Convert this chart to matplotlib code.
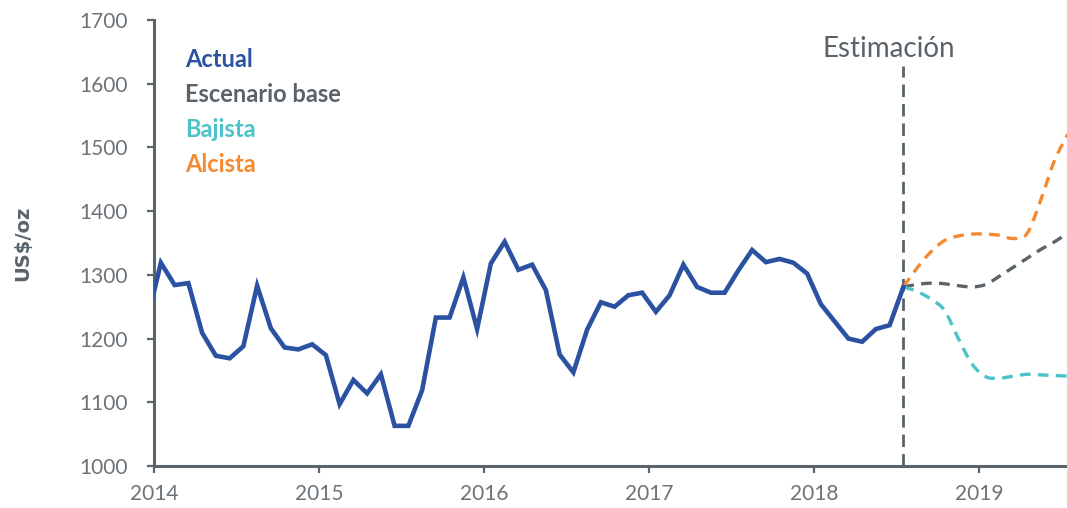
import matplotlib
matplotlib.use("Agg")
import matplotlib.pyplot as plt
from matplotlib.path import Path
from matplotlib.patches import PathPatch
import numpy as np

# Monthly gold price (US$/oz), Dec 2013 .. Jul 2018
actual = [
    1228,
    1319, 1284, 1287, 1209, 1173, 1169, 1188, 1283, 1216, 1186, 1183, 1191,  # 2014
    1174, 1097, 1135, 1114, 1144, 1063, 1063, 1119, 1233, 1233, 1296, 1215,  # 2015
    1318, 1352, 1308, 1316, 1276, 1175, 1147, 1214, 1257, 1250, 1268, 1272,  # 2016
    1242, 1268, 1316, 1281, 1272, 1272, 1307, 1339, 1320, 1325, 1319, 1302,  # 2017
    1254, 1227, 1200, 1195, 1215, 1221, 1281,                                # 2018
]
# Scenarios, Jul 2018 .. Jul 2019
base = [1281, 1285, 1287, 1286, 1283, 1281, 1285, 1298, 1312, 1326, 1340, 1352, 1366]
bajista = [1281, 1274, 1262, 1244, 1200, 1160, 1140, 1138, 1141, 1144, 1143, 1142, 1141]
alcista = [1281, 1311, 1336, 1354, 1361, 1364, 1364, 1362, 1357, 1365, 1418, 1480, 1522]

labels = ["Actual", "Escenario base", "Bajista", "Alcista"]
years = [2014, 2015, 2016, 2017, 2018, 2019]
yticks = [1000, 1100, 1200, 1300, 1400, 1500, 1600, 1700]

c_actual = "#2b51a1"
c_base = "#5a6369"
c_baj = "#4cc3c8"
c_alc = "#f5892f"
c_axis = "#5a646b"
c_text = "#6b7379"

# months placed mid-month
t_actual = 2013 + (11 + 0.5) / 12 + np.arange(len(actual)) / 12
t_fc = t_actual[-1] + np.arange(len(base)) / 12


def smooth_path(x, y):
    # Catmull-Rom through the points, as cubic bezier segments
    pts = np.column_stack([x, y]).astype(float)
    verts = [pts[0]]
    codes = [Path.MOVETO]
    n = len(pts)
    for i in range(n - 1):
        p0 = pts[max(i - 1, 0)]
        p1 = pts[i]
        p2 = pts[i + 1]
        p3 = pts[min(i + 2, n - 1)]
        c1 = p1 + (p2 - p0) / 6
        c2 = p2 - (p3 - p1) / 6
        verts += [c1, c2, p2]
        codes += [Path.CURVE4] * 3
    return Path(verts, codes)


fig = plt.figure(figsize=(10.67, 5.08), dpi=100)
ax = fig.add_axes([154 / 1067, 1 - 466 / 508, (1067 - 154) / 1067, (466 - 20) / 508])

ax.plot([t_actual[-1], t_actual[-1]], [1000, 1628], color=c_base, lw=2,
        dashes=(4.5, 2.5), zorder=1, clip_on=False)

dash = (0, (3.2, 2.2))
for vals, col in [(base, c_base), (bajista, c_baj), (alcista, c_alc)]:
    ax.add_patch(PathPatch(smooth_path(t_fc, vals), fill=False, edgecolor=col,
                           lw=2.4, linestyle=dash, zorder=2, capstyle="butt"))

ax.plot(t_actual, actual, color=c_actual, lw=3.3, zorder=3, solid_joinstyle="miter")

ax.set_xlim(2014, 2014 + (1067 - 154) / 165)
ax.set_ylim(1000, 1700)
ax.set_xticks(years)
ax.set_yticks(yticks)

for s in ["top", "right"]:
    ax.spines[s].set_visible(False)
for s in ["left", "bottom"]:
    ax.spines[s].set_color(c_axis)
    ax.spines[s].set_linewidth(2.2)
ax.tick_params(axis="both", colors=c_axis, width=1.6, length=5, labelsize=15,
               labelcolor=c_text)
ax.tick_params(axis="y", pad=14)
ax.tick_params(axis="x", pad=8)
for lab in ax.get_xticklabels() + ax.get_yticklabels():
    lab.set_fontfamily("Lato")

ax.set_ylabel("US$/oz", fontsize=14, fontweight="bold", color=c_axis,
              fontfamily="DejaVu Sans", labelpad=34)

for i, (lab, col) in enumerate(zip(labels, [c_actual, c_base, c_baj, c_alc])):
    ax.text(0.034, 0.912 - i * 0.0785, lab, transform=ax.transAxes, color=col,
            fontsize=17, fontweight="bold", fontfamily="Lato", va="center")

ax.text(2018 + (889 - 814) / 165, 1654, "Estimación", ha="center", va="center",
        fontsize=20, color=c_base, fontfamily="Lato")

fig.savefig("out.png", dpi=100)
